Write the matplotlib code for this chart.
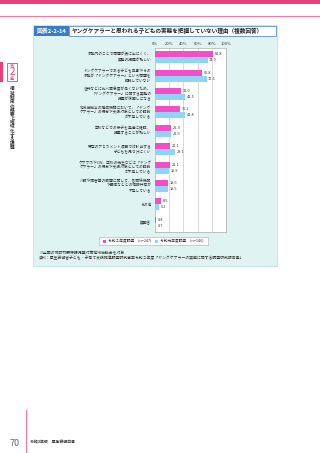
import matplotlib
matplotlib.use("Agg")
import matplotlib.pyplot as plt
from matplotlib.patches import Rectangle
import numpy as np

plt.rcParams['font.family'] = ['Noto Sans CJK JP', 'DejaVu Sans']

categories = [
    "家族内のことで問題が表に出にくく、\n実態の把握が難しい",
    "ヤングケアラーである子ども自身やその\n家族が「ヤングケアラー」という問題を\n認識していない",
    "虐待などに比べ緊急度が高くないため、\n「ヤングケアラー」に関する実態の\n把握が後回しになる",
    "地域協議会の構成機関において、「ヤング\nケアラー」の概念や支援対象としての認識\nが不足している",
    "学校などでの様子を迅速に確認、\n把握することが難しい",
    "既存のアセスメント項目では該当する\n子どもを見つけにくい",
    "ケアマネやCW、学校の先生などに「ヤング\nケアラー」の概念や支援対象としての認識\nが不足している",
    "介護や障害等の課題に関して、各関係機関\nや団体などとの情報共有が\n不足している",
    "その他",
    "無回答",
]
r2_values = [81.8, 66.8, 36.0, 35.2, 22.3, 21.1, 21.1, 18.6, 8.5, 0.8]
r1_values = [74.0, 72.6, 42.5, 41.8, 21.9, 28.1, 19.9, 18.5, 6.2, 0.7]
series_labels = ["令和２年度調査　(n=247)", "令和元年度調査　(n=146)"]
xticks = [0, 20, 40, 60, 80, 100]
title_no = "図表2-2-14"
title = "ヤングケアラーと思われる子どもの実態を把握していない理由（複数回答）"
notes = ["※全国の市町村要保護児童対策地域協議会を対象",
         "資料：厚生労働省子ども・子育て支援推進調査研究事業令和２年度「ヤングケアラーの実態に関する調査研究報告書」"]

PINK = "#f24fc6"
BLUE = "#8fd3f6"
CYAN = "#dff3f3"
W, H = 320, 453

fig = plt.figure(figsize=(W / 100, H / 100), dpi=100)
fig.patch.set_facecolor("white")

def fr(x0, y0, x1, y1):
    return [x0 / W, 1 - y1 / H, (x1 - x0) / W, (y1 - y0) / H]

# page layer
bg = fig.add_axes([0, 0, 1, 1])
bg.set_xlim(0, W)
bg.set_ylim(H, 0)
bg.axis("off")

bg.add_patch(Rectangle((0, 0), W, 4, color="#e8407a", lw=0))
bg.plot([0, W], [16, 16], color="#f07aa0", lw=0.8)
# chart box
bg.add_patch(Rectangle((33, 25), 244, 241, facecolor=CYAN, edgecolor="#b9dede", lw=0.5))
bg.add_patch(Rectangle((34, 26), 35, 10, facecolor="#3b7cc8", edgecolor="none"))
bg.add_patch(Rectangle((69, 26), 207, 10, facecolor="white", edgecolor="#3b7cc8", lw=0.5))
bg.text(51.5, 31.2, title_no, ha="center", va="center", fontsize=4.2, color="white", fontweight="bold")
bg.text(72, 31.2, title, ha="left", va="center", fontsize=4.1, color="#222222", fontweight="bold")

# left chapter tab
bg.add_patch(Rectangle((0, 62), 3, 20, color="#e8407a", lw=0))
bg.add_patch(Rectangle((7, 63), 10, 18, facecolor="white", edgecolor="#e8407a", lw=0.6))
bg.text(12, 66, "第", ha="center", va="center", fontsize=3, color="#e8407a")
bg.text(12, 72, "2", ha="center", va="center", fontsize=7, color="#e8407a")
bg.text(12, 78.5, "章", ha="center", va="center", fontsize=3, color="#e8407a")
chap = "福祉制度の概要と地域化する課題"
for k, ch in enumerate(chap):
    bg.text(12, 89 + k * 4.2, ch, ha="center", va="center", fontsize=3.3, color="#333333", fontweight="bold")

# footer
bg.plot([26, 26], [410, 453], color="#f07aa0", lw=0.8)
bg.text(20, 443, "70", ha="right", va="center", fontsize=6.5, color="#666666")
bg.text(30, 442, "令和3年版　厚生労働白書", ha="left", va="center", fontsize=2.8, color="#333333", fontweight="bold")

# legend
bg.add_patch(Rectangle((99, 237), 109, 8, facecolor="white", edgecolor="#aaaaaa", lw=0.4))
bg.add_patch(Rectangle((103, 239.5), 3, 3, color=PINK, lw=0))
bg.text(108, 241, series_labels[0], ha="left", va="center", fontsize=2.7, color="#333333")
bg.add_patch(Rectangle((155, 239.5), 3, 3, color=BLUE, lw=0))
bg.text(160, 241, series_labels[1], ha="left", va="center", fontsize=2.7, color="#333333")

bg.text(39, 253, notes[0], ha="left", va="center", fontsize=2.8, color="#333333")
bg.text(39, 257.5, notes[1], ha="left", va="center", fontsize=2.8, color="#333333")

# main plot
ax = fig.add_axes(fr(155, 48, 226, 232))
ax.set_facecolor("white")
n = len(categories)
y = np.arange(n)
bh = 0.33
ax.barh(y - bh / 2, r2_values, height=bh, color=PINK, zorder=3)
ax.barh(y + bh / 2, r1_values, height=bh, color=BLUE, zorder=3)
ax.set_xlim(0, 100)
ax.set_ylim(n - 0.5, -0.5)
ax.set_xticks(xticks)
ax.set_xticklabels([f"{t}%" for t in xticks], fontsize=3.0, color="#333333")
ax.xaxis.tick_top()
ax.tick_params(axis="x", length=0, pad=1.5)
ax.set_yticks([])
for t in xticks[1:-1]:
    ax.axvline(t, color="#bbbbbb", lw=0.4, zorder=1)
for s in ax.spines.values():
    s.set_color("#999999")
    s.set_linewidth(0.4)
for i in range(n):
    ax.text(r2_values[i] + 2.5, i - bh / 2, f"{r2_values[i]:.1f}", va="center", ha="left", fontsize=2.8, color="#333333", zorder=4)
    ax.text(r1_values[i] + 2.5, i + bh / 2, f"{r1_values[i]:.1f}", va="center", ha="left", fontsize=2.8, color="#333333", zorder=4)
    ax.text(-5, i, categories[i], va="center", ha="right", fontsize=2.7, color="#333333", linespacing=1.15, clip_on=False)

fig.savefig("out.png", dpi=100, facecolor="white")
